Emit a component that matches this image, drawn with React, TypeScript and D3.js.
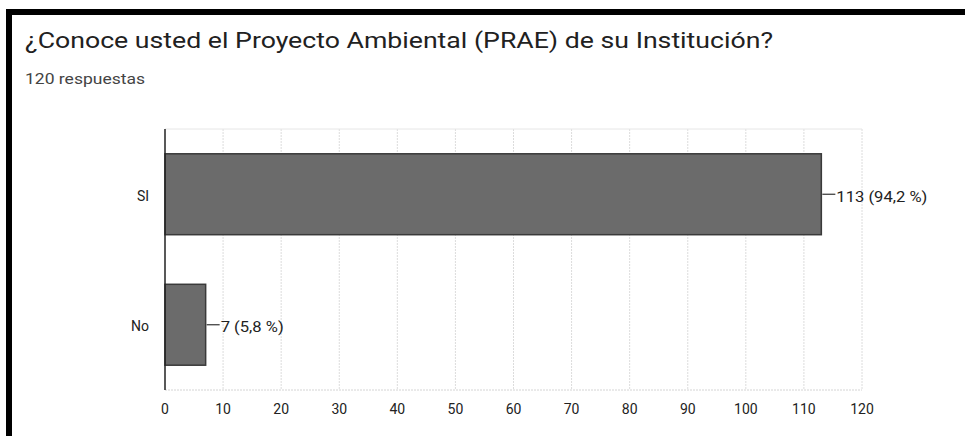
import React from "react";
import * as d3 from "d3";

const categories = ["SI", "No"];
const values = [113, 7];
const valueLabels = ["113 (94,2 %)", "7 (5,8 %)"];
const xTicks = [0, 10, 20, 30, 40, 50, 60, 70, 80, 90, 100, 110, 120];
const title = "¿Conoce usted el Proyecto Ambiental (PRAE) de su Institución?";
const subtitle = "120 respuestas";

export default function App() {
  const W = 965, H = 436;
  const left = 165, right = 862, top = 129, bottom = 390;
  const x = d3.scaleLinear().domain([0, 120]).range([left, right]);
  const y = d3.scaleBand().domain(categories).range([top, bottom]).paddingInner(0.38).paddingOuter(0.19);
  const font = "Roboto, Arial, sans-serif";
  const labelWidths = [91, 63];
  return (
    <svg width={W} height={H} style={{ position: "absolute", left: 0, top: 0, display: "block", background: "#fff" }}>
      <rect x={0} y={0} width={W} height={H} fill="#fff" />
      <line x1={6} x2={W} y1={12} y2={12} stroke="#000" strokeWidth={6} />
      <line x1={9} x2={9} y1={9} y2={H} stroke="#000" strokeWidth={6} />
      <text x={25} y={48} fontFamily={font} fontSize={22} fill="#212121" textLength={748} lengthAdjust="spacingAndGlyphs">{title}</text>
      <text x={25} y={84} fontFamily={font} fontSize={14} fill="#444" textLength={120} lengthAdjust="spacingAndGlyphs">{subtitle}</text>
      {xTicks.map((t) => (
        <g key={t}>
          {t > 0 && (
            <line x1={x(t)} x2={x(t)} y1={top} y2={bottom} stroke="#dcdcdc" strokeWidth={1} strokeDasharray="2,1" />
          )}
          <text x={x(t)} y={414} textAnchor="middle" fontFamily={font} fontSize={14} fill="#222">{t}</text>
        </g>
      ))}
      <line x1={left} x2={right} y1={top} y2={top} stroke="#e6e6e6" strokeWidth={1} />
      <line x1={left} x2={right} y1={bottom} y2={bottom} stroke="#d4d4d4" strokeWidth={1} strokeDasharray="2,1" />
      {categories.map((c, i) => {
        const yy = y(c)!;
        const bw = y.bandwidth();
        const cy = yy + bw / 2;
        const xe = x(values[i]);
        return (
          <g key={c}>
            <rect x={left} y={yy} width={xe - left} height={bw} fill="#6b6b6b" stroke="#3a3a3a" strokeWidth={1.5} />
            <line x1={xe + 1} x2={xe + 14} y1={cy} y2={cy} stroke="#333" strokeWidth={1.2} />
            <text x={xe + 15} y={cy + 7.5} fontFamily={font} fontSize={14} fill="#222" textLength={labelWidths[i]} lengthAdjust="spacingAndGlyphs">{valueLabels[i]}</text>
            <text x={149} y={cy + 6.5} textAnchor="end" fontFamily={font} fontSize={14} fill="#222">{c}</text>
          </g>
        );
      })}
      <line x1={left} x2={left} y1={top} y2={bottom} stroke="#222" strokeWidth={1.5} />
    </svg>
  );
}
